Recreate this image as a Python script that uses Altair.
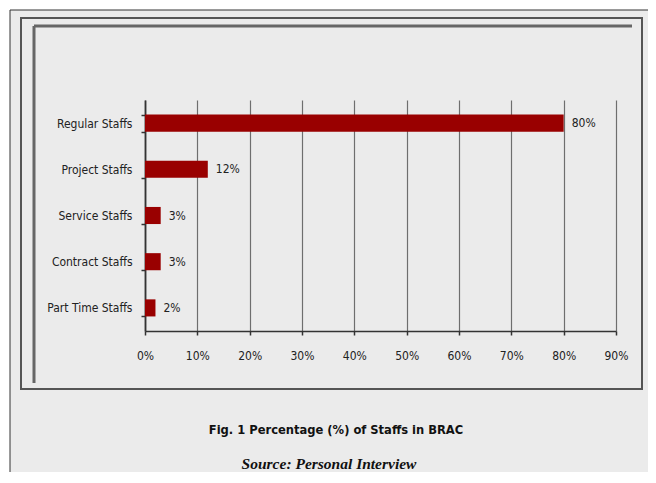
import altair as alt
import pandas as pd

categories = ["Regular Staffs", "Project Staffs", "Service Staffs", "Contract Staffs", "Part Time Staffs"]
values = [80, 12, 3, 3, 2]
x_ticks = [0, 10, 20, 30, 40, 50, 60, 70, 80, 90]
title_text = "Fig. 1 Percentage (%) of Staffs in BRAC"
source_text = "Source: Personal Interview"

df = pd.DataFrame({"cat": categories, "val": values,
                   "lab": [f"{v}%" for v in values]})
one = pd.DataFrame({"k": [0]})

SANS = "Liberation Sans Narrow, DejaVu Sans Condensed, sans-serif"

W, H = 471, 231

white_top = alt.Chart(one).mark_rect(fill="white").encode(
    x=alt.value(-140), x2=alt.value(540), y=alt.value(-95), y2=alt.value(-90))
white_left = alt.Chart(one).mark_rect(fill="white").encode(
    x=alt.value(-140), x2=alt.value(-135), y=alt.value(-95), y2=alt.value(420))
outer = alt.Chart(one).mark_rect(fill=None, stroke="#333333", strokeWidth=1).encode(
    x=alt.value(-135), x2=alt.value(540), y=alt.value(-90), y2=alt.value(420))
frame2 = alt.Chart(one).mark_rect(fill=None, stroke="#555555", strokeWidth=2).encode(
    x=alt.value(-124), x2=alt.value(497), y=alt.value(-82), y2=alt.value(289))
inner_top = alt.Chart(one).mark_rule(color="#666666", strokeWidth=3).encode(
    x=alt.value(-111), x2=alt.value(487), y=alt.value(-74))
inner_left = alt.Chart(one).mark_rule(color="#666666", strokeWidth=3).encode(
    x=alt.value(-111), y=alt.value(-74), y2=alt.value(283))

xscale = alt.Scale(domain=[0, 90], nice=False, zero=True)
yscale = alt.Scale(domain=categories, paddingInner=0.63, paddingOuter=0.315)

bars = alt.Chart(df).mark_bar(color="#990000").encode(
    x=alt.X("val:Q", scale=xscale,
            axis=alt.Axis(values=x_ticks, labelExpr="datum.value + '%'", title=None,
                          grid=True, gridColor="#6E6E6E", gridWidth=1.2,
                          domainColor="#333333", domainWidth=1.5,
                          tickColor="#333333", tickSize=4, tickWidth=1.5,
                          labelFlush=False, labelPadding=15, labelFont=SANS,
                          labelFontSize=12, labelColor="#222222")),
    y=alt.Y("cat:N", scale=yscale, sort=categories,
            axis=alt.Axis(title=None, tickBand="extent", domainColor="#333333",
                          domainWidth=1.8, tickColor="#333333", tickSize=4,
                          tickWidth=1.5, labelPadding=9, labelFont=SANS,
                          labelFontSize=12, labelColor="#222222")),
)
labels = alt.Chart(df).mark_text(align="left", baseline="middle", dx=8,
                                 font=SANS, fontSize=12, color="#222222").encode(
    x=alt.X("val:Q", scale=xscale), y=alt.Y("cat:N", scale=yscale, sort=categories),
    text="lab:N")

title = alt.Chart(pd.DataFrame({"t": [title_text]})).mark_text(
    font=SANS, fontSize=12.8, fontWeight="bold", color="#111111",
    align="center", baseline="middle").encode(
    x=alt.value(191), y=alt.value(330), text="t:N")
source = alt.Chart(pd.DataFrame({"t": [source_text]})).mark_text(
    font="Liberation Serif", fontSize=15.5, fontWeight="bold", fontStyle="italic",
    color="#111111", align="center", baseline="middle").encode(
    x=alt.value(184), y=alt.value(364), text="t:N")

chart = alt.layer(white_top, white_left, outer, frame2, inner_top, inner_left,
                  bars, labels, title, source).properties(
    width=W, height=H,
    autosize=alt.AutoSizeParams(type="none"),
    padding={"left": 137, "top": 92, "right": 32, "bottom": 141},
    background="#EBEBEB",
).configure_view(stroke=None)

chart.save("out.html", embed_options={"renderer": "svg", "actions": False})
